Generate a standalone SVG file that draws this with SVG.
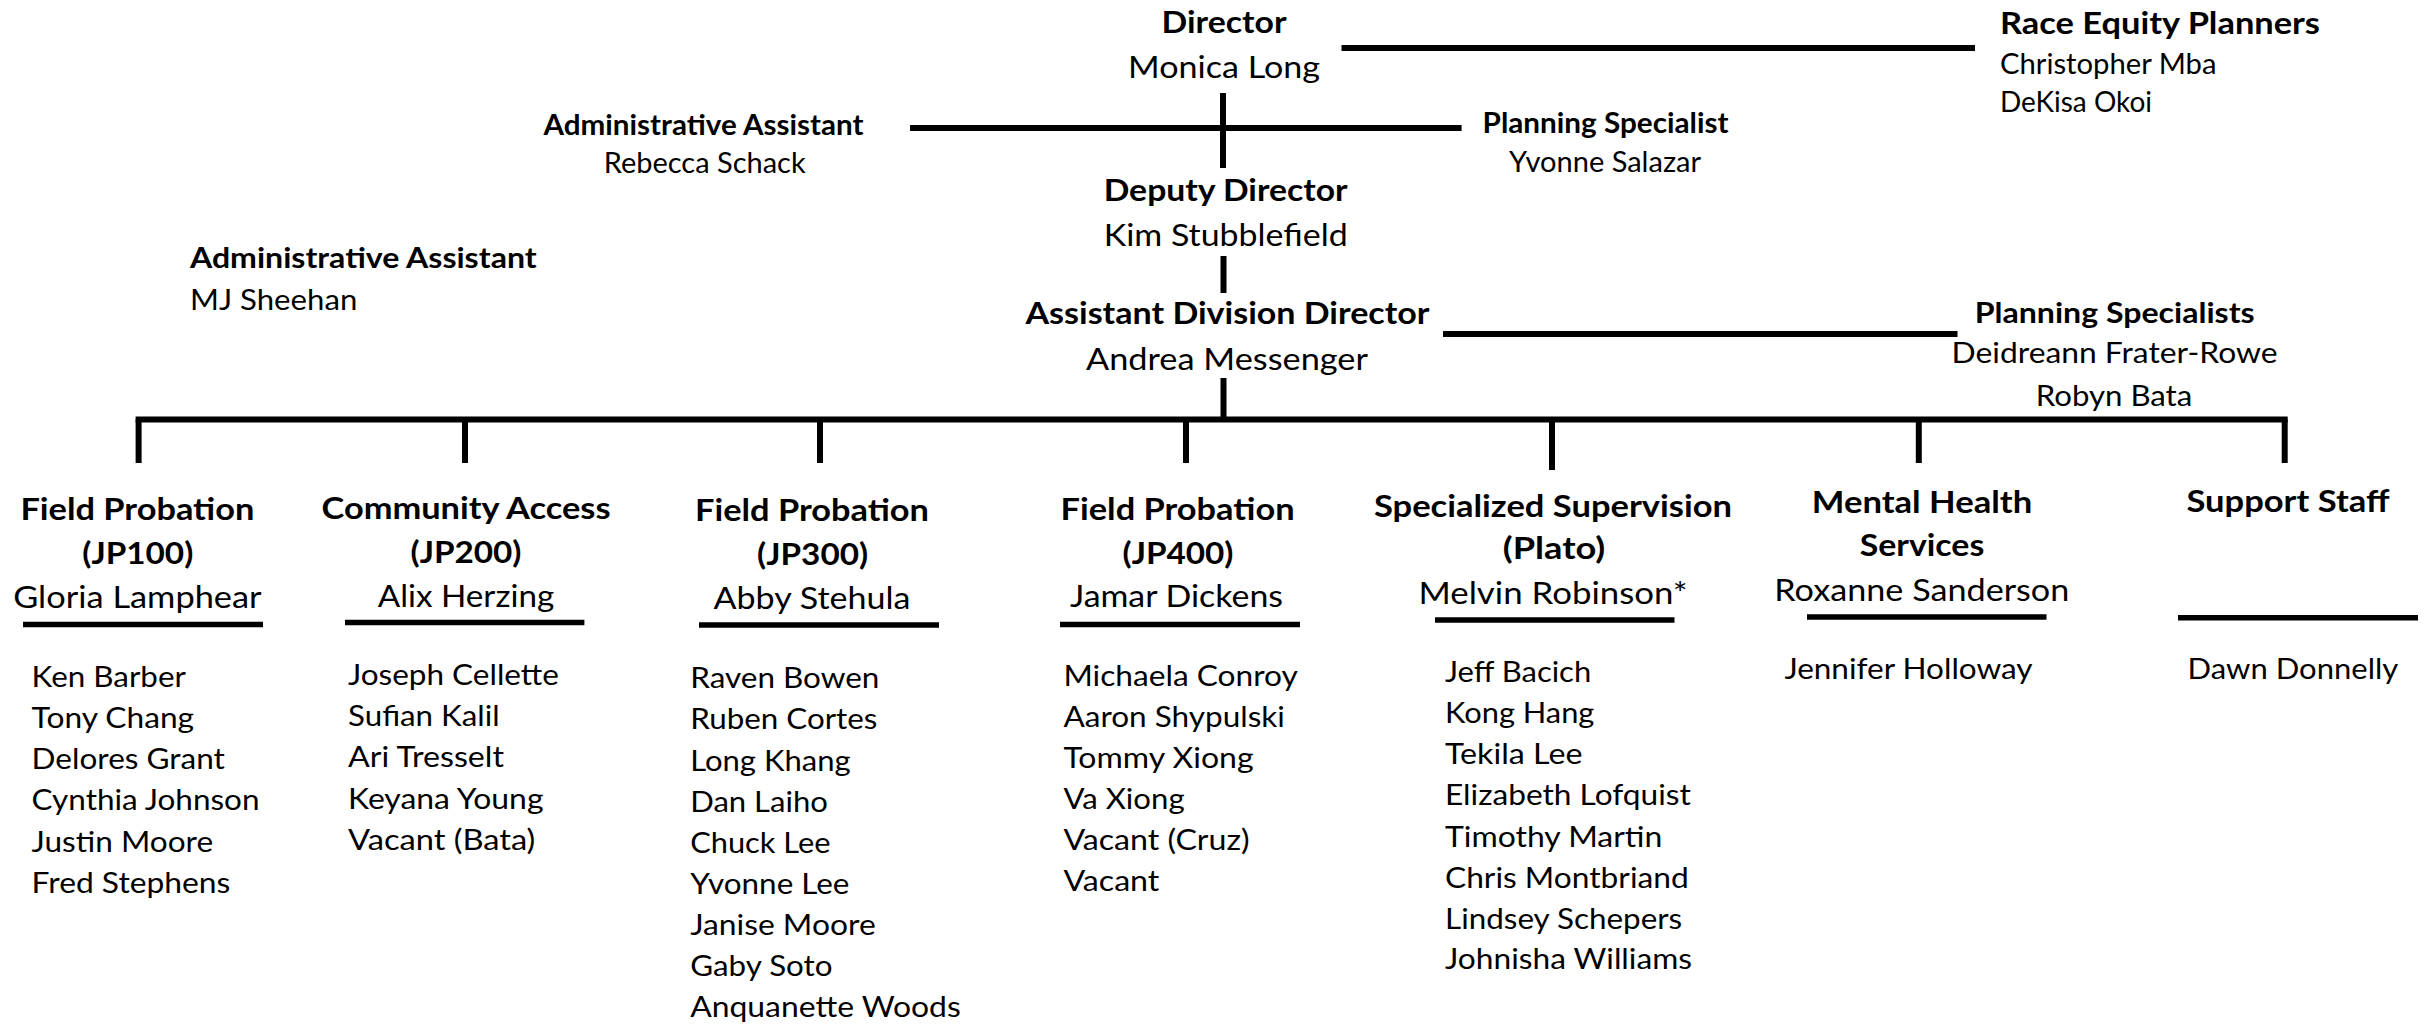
<svg xmlns="http://www.w3.org/2000/svg" width="2432" height="1028" viewBox="0 0 2432 1028">
<style>
text{font-family:Lato,"Liberation Sans",sans-serif;fill:#000}
.b{font-size:31px;font-weight:700}
.r{font-size:31px;font-weight:400}
.bs{font-size:29px;font-weight:700}
.rs{font-size:29px;font-weight:400}
.bx{font-size:28px;font-weight:700}
.rx{font-size:28px;font-weight:400}
.m{text-anchor:middle}
.conn line{stroke:#000;stroke-width:6;stroke-linecap:butt}
.ul{stroke:#000;stroke-width:5.5}
</style>
<rect width="2432" height="1028" fill="#fff"/>
<g id="connectors" class="conn">
<line x1="1341.5" y1="48" x2="1975" y2="48"/>
<line x1="1223" y1="93" x2="1223" y2="168"/>
<line x1="910" y1="128" x2="1461.6" y2="128"/>
<line x1="1223.5" y1="256" x2="1223.5" y2="293"/>
<line x1="1443" y1="334" x2="1957.5" y2="334"/>
<line x1="1223.5" y1="378" x2="1223.5" y2="419.5"/>
<line x1="135.6" y1="419.5" x2="2287.7" y2="419.5"/>
<line x1="138.6" y1="419.5" x2="138.6" y2="463"/>
<line x1="465" y1="419.5" x2="465" y2="463"/>
<line x1="820" y1="419.5" x2="820" y2="463"/>
<line x1="1186" y1="419.5" x2="1186" y2="463"/>
<line x1="1552" y1="419.5" x2="1552" y2="470"/>
<line x1="1918.8" y1="419.5" x2="1918.8" y2="463"/>
<line x1="2284.7" y1="419.5" x2="2284.7" y2="463"/>
</g>
<g id="director">
<text class="b m" x="1224" y="32.5" textLength="125" lengthAdjust="spacingAndGlyphs">Director</text>
<text class="r m" x="1224" y="77.5" textLength="192" lengthAdjust="spacingAndGlyphs">Monica Long</text>
</g>
<g id="race-equity-planners">
<text class="b" x="2000" y="34" textLength="320" lengthAdjust="spacingAndGlyphs">Race Equity Planners</text>
<text class="rx" x="2000" y="74" textLength="216.5" lengthAdjust="spacingAndGlyphs">Christopher Mba</text>
<text class="rx" x="2000" y="111.7" textLength="152" lengthAdjust="spacingAndGlyphs">DeKisa Okoi</text>
</g>
<g id="admin-assistant-director">
<text class="bx m" x="703.5" y="135" textLength="320" lengthAdjust="spacingAndGlyphs">Administrative Assistant</text>
<text class="rx m" x="704.7" y="173" textLength="202" lengthAdjust="spacingAndGlyphs">Rebecca Schack</text>
</g>
<g id="planning-specialist">
<text class="bx m" x="1605.6" y="133" textLength="246" lengthAdjust="spacingAndGlyphs">Planning Specialist</text>
<text class="rx m" x="1605" y="172" textLength="192" lengthAdjust="spacingAndGlyphs">Yvonne Salazar</text>
</g>
<g id="deputy-director">
<text class="b m" x="1225.7" y="201" textLength="244" lengthAdjust="spacingAndGlyphs">Deputy Director</text>
<text class="r m" x="1225.7" y="246" textLength="244" lengthAdjust="spacingAndGlyphs">Kim Stubblefield</text>
</g>
<g id="admin-assistant-left">
<text class="bs" x="190" y="267.7" textLength="346.7" lengthAdjust="spacingAndGlyphs">Administrative Assistant</text>
<text class="rs" x="190" y="310" textLength="167.3" lengthAdjust="spacingAndGlyphs">MJ Sheehan</text>
</g>
<g id="assistant-division-director">
<text class="b m" x="1227.5" y="324" textLength="404" lengthAdjust="spacingAndGlyphs">Assistant Division Director</text>
<text class="r m" x="1227" y="370" textLength="282" lengthAdjust="spacingAndGlyphs">Andrea Messenger</text>
</g>
<g id="planning-specialists">
<text class="bs m" x="2114.7" y="323.3" textLength="280" lengthAdjust="spacingAndGlyphs">Planning Specialists</text>
<text class="rs m" x="2114.5" y="363.3" textLength="326" lengthAdjust="spacingAndGlyphs">Deidreann Frater-Rowe</text>
<text class="rs m" x="2114" y="405.7" textLength="156.6" lengthAdjust="spacingAndGlyphs">Robyn Bata</text>
</g>
<g id="jp100">
<text class="b m" x="137.4" y="520" textLength="234" lengthAdjust="spacingAndGlyphs">Field Probation</text>
<text class="b m" x="137.8" y="564" textLength="111" lengthAdjust="spacingAndGlyphs">(JP100)</text>
<text class="r m" x="137.4" y="608.3" textLength="248.5" lengthAdjust="spacingAndGlyphs">Gloria Lamphear</text>
<line class="ul" x1="23" y1="624.5" x2="263" y2="624.5"/>
<text class="rs" x="31.6" y="687" textLength="154.3" lengthAdjust="spacingAndGlyphs">Ken Barber</text>
<text class="rs" x="31.6" y="727.5" textLength="162.5" lengthAdjust="spacingAndGlyphs">Tony Chang</text>
<text class="rs" x="31.6" y="769" textLength="193.3" lengthAdjust="spacingAndGlyphs">Delores Grant</text>
<text class="rs" x="31.6" y="810" textLength="227.9" lengthAdjust="spacingAndGlyphs">Cynthia Johnson</text>
<text class="rs" x="31.6" y="851.5" textLength="181.5" lengthAdjust="spacingAndGlyphs">Justin Moore</text>
<text class="rs" x="31.6" y="892.5" textLength="198.8" lengthAdjust="spacingAndGlyphs">Fred Stephens</text>
</g>
<g id="jp200">
<text class="b m" x="466" y="519" textLength="289" lengthAdjust="spacingAndGlyphs">Community Access</text>
<text class="b m" x="466" y="563" textLength="111" lengthAdjust="spacingAndGlyphs">(JP200)</text>
<text class="r m" x="466" y="607" textLength="176.5" lengthAdjust="spacingAndGlyphs">Alix Herzing</text>
<line class="ul" x1="345" y1="622.5" x2="584.4" y2="622.5"/>
<text class="rs" x="348" y="685" textLength="210.9" lengthAdjust="spacingAndGlyphs">Joseph Cellette</text>
<text class="rs" x="348" y="726" textLength="151.6" lengthAdjust="spacingAndGlyphs">Sufian Kalil</text>
<text class="rs" x="348" y="767" textLength="156" lengthAdjust="spacingAndGlyphs">Ari Tresselt</text>
<text class="rs" x="348" y="808.5" textLength="195.5" lengthAdjust="spacingAndGlyphs">Keyana Young</text>
<text class="rs" x="348" y="849.5" textLength="187.3" lengthAdjust="spacingAndGlyphs">Vacant (Bata)</text>
</g>
<g id="jp300">
<text class="b m" x="812" y="520.5" textLength="234" lengthAdjust="spacingAndGlyphs">Field Probation</text>
<text class="b m" x="812.6" y="564.5" textLength="111" lengthAdjust="spacingAndGlyphs">(JP300)</text>
<text class="r m" x="812" y="608.5" textLength="197" lengthAdjust="spacingAndGlyphs">Abby Stehula</text>
<line class="ul" x1="699" y1="625" x2="939" y2="625"/>
<text class="rs" x="690.2" y="687.5" textLength="189.2" lengthAdjust="spacingAndGlyphs">Raven Bowen</text>
<text class="rs" x="690.2" y="729" textLength="187.2" lengthAdjust="spacingAndGlyphs">Ruben Cortes</text>
<text class="rs" x="690.2" y="770.5" textLength="160.4" lengthAdjust="spacingAndGlyphs">Long Khang</text>
<text class="rs" x="690.2" y="811.5" textLength="137.7" lengthAdjust="spacingAndGlyphs">Dan Laiho</text>
<text class="rs" x="690.2" y="852.8" textLength="140.3" lengthAdjust="spacingAndGlyphs">Chuck Lee</text>
<text class="rs" x="690.2" y="893.5" textLength="159.2" lengthAdjust="spacingAndGlyphs">Yvonne Lee</text>
<text class="rs" x="690.2" y="935" textLength="185.5" lengthAdjust="spacingAndGlyphs">Janise Moore</text>
<text class="rs" x="690.2" y="976" textLength="142.3" lengthAdjust="spacingAndGlyphs">Gaby Soto</text>
<text class="rs" x="690.2" y="1017" textLength="270.5" lengthAdjust="spacingAndGlyphs">Anquanette Woods</text>
</g>
<g id="jp400">
<text class="b m" x="1177.6" y="519.5" textLength="234" lengthAdjust="spacingAndGlyphs">Field Probation</text>
<text class="b m" x="1178" y="564" textLength="111" lengthAdjust="spacingAndGlyphs">(JP400)</text>
<text class="r m" x="1176.5" y="607.4" textLength="213" lengthAdjust="spacingAndGlyphs">Jamar Dickens</text>
<line class="ul" x1="1060" y1="624.5" x2="1300" y2="624.5"/>
<text class="rs" x="1063.4" y="686" textLength="234.5" lengthAdjust="spacingAndGlyphs">Michaela Conroy</text>
<text class="rs" x="1063.4" y="727" textLength="221.5" lengthAdjust="spacingAndGlyphs">Aaron Shypulski</text>
<text class="rs" x="1063.4" y="768" textLength="190.2" lengthAdjust="spacingAndGlyphs">Tommy Xiong</text>
<text class="rs" x="1063.4" y="809.3" textLength="121.2" lengthAdjust="spacingAndGlyphs">Va Xiong</text>
<text class="rs" x="1063.4" y="850" textLength="186.1" lengthAdjust="spacingAndGlyphs">Vacant (Cruz)</text>
<text class="rs" x="1063.4" y="890.5" textLength="96" lengthAdjust="spacingAndGlyphs">Vacant</text>
</g>
<g id="specialized-supervision">
<text class="b m" x="1553" y="516.5" textLength="358" lengthAdjust="spacingAndGlyphs">Specialized Supervision</text>
<text class="b m" x="1554" y="559" textLength="102.5" lengthAdjust="spacingAndGlyphs">(Plato)</text>
<text class="r m" x="1553" y="603.5" textLength="269" lengthAdjust="spacingAndGlyphs">Melvin Robinson*</text>
<line class="ul" x1="1435" y1="620" x2="1674.5" y2="620"/>
<text class="rs" x="1445" y="681.6" textLength="146.2" lengthAdjust="spacingAndGlyphs">Jeff Bacich</text>
<text class="rs" x="1445" y="722.6" textLength="149.4" lengthAdjust="spacingAndGlyphs">Kong Hang</text>
<text class="rs" x="1445" y="763.8" textLength="137.5" lengthAdjust="spacingAndGlyphs">Tekila Lee</text>
<text class="rs" x="1445" y="805" textLength="245.8" lengthAdjust="spacingAndGlyphs">Elizabeth Lofquist</text>
<text class="rs" x="1445" y="846.8" textLength="217.3" lengthAdjust="spacingAndGlyphs">Timothy Martin</text>
<text class="rs" x="1445" y="887.6" textLength="243.7" lengthAdjust="spacingAndGlyphs">Chris Montbriand</text>
<text class="rs" x="1445" y="928.7" textLength="237.2" lengthAdjust="spacingAndGlyphs">Lindsey Schepers</text>
<text class="rs" x="1445" y="969.4" textLength="247" lengthAdjust="spacingAndGlyphs">Johnisha Williams</text>
</g>
<g id="mental-health-services">
<text class="b m" x="1922" y="513" textLength="220.5" lengthAdjust="spacingAndGlyphs">Mental Health</text>
<text class="b m" x="1922" y="556.4" textLength="124.5" lengthAdjust="spacingAndGlyphs">Services</text>
<text class="r m" x="1921.8" y="600.7" textLength="295" lengthAdjust="spacingAndGlyphs">Roxanne Sanderson</text>
<line class="ul" x1="1807" y1="617" x2="2046.5" y2="617"/>
<text class="rs" x="1784.4" y="678.8" textLength="248.2" lengthAdjust="spacingAndGlyphs">Jennifer Holloway</text>
</g>
<g id="support-staff">
<text class="b m" x="2288" y="511.7" textLength="203" lengthAdjust="spacingAndGlyphs">Support Staff</text>
<line class="ul" x1="2178" y1="617.8" x2="2418" y2="617.8"/>
<text class="rs" x="2187.6" y="678.8" textLength="210.7" lengthAdjust="spacingAndGlyphs">Dawn Donnelly</text>
</g>
</svg>
